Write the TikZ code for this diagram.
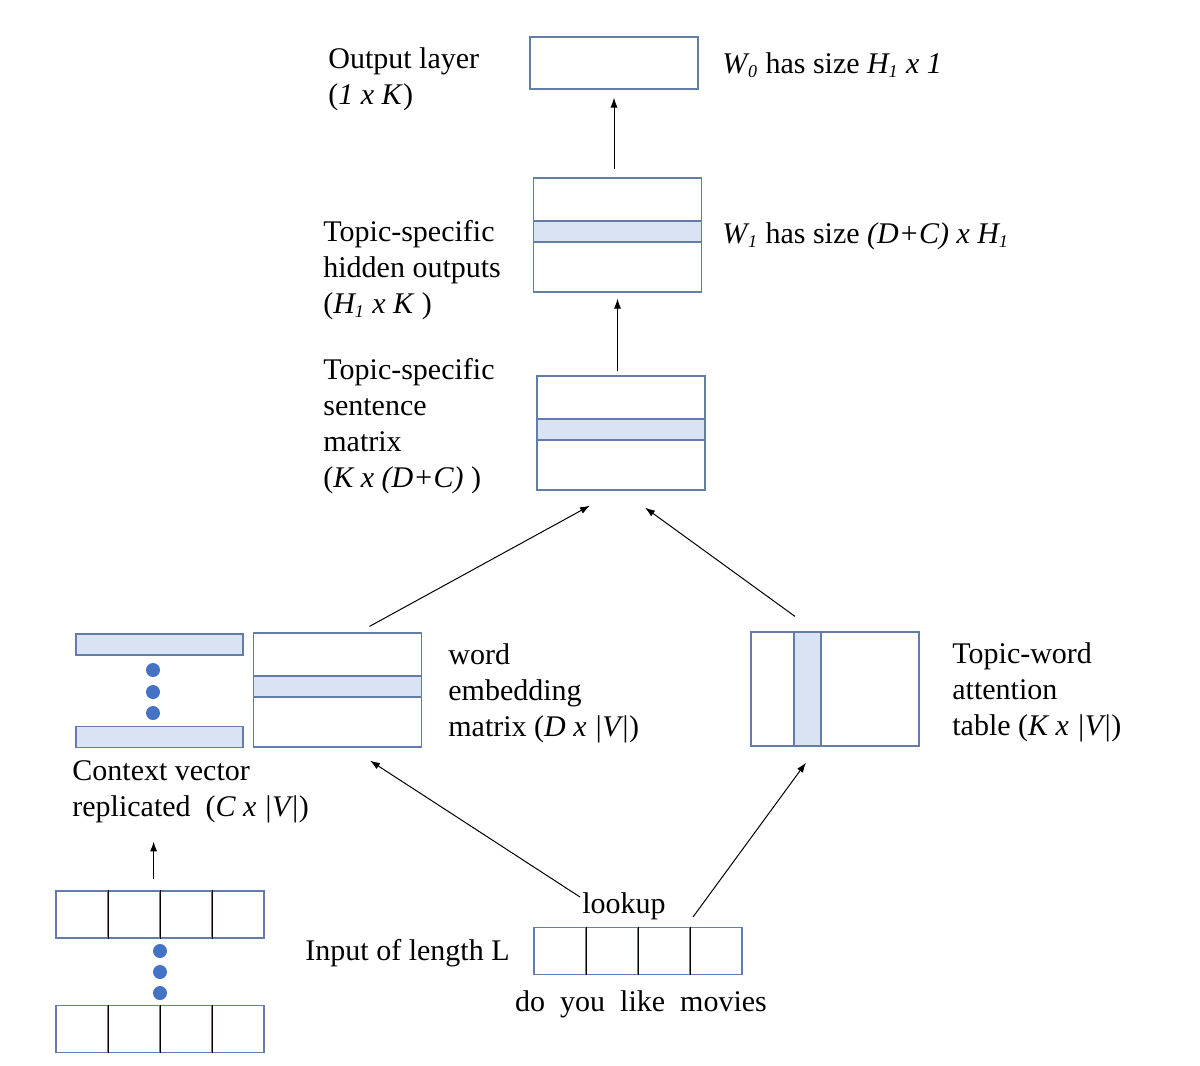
\documentclass[tikz,border=0pt]{standalone}
\usepackage{fontspec}
\setmainfont{Liberation Serif}
\usetikzlibrary{arrows.meta, positioning, calc}

\definecolor{matline}{RGB}{100,124,170}
\definecolor{bandfill}{RGB}{218,227,243}
\definecolor{dotblue}{RGB}{68,114,196}
\newcommand{\ivar}[1]{\textit{#1}}
\newcommand{\isub}[2]{\textit{#1}\kern-0.8pt\textsubscript{\textit{\fontsize{9}{9}\selectfont#2}}}

\begin{document}
\begin{tikzpicture}[
    x=0.5pt, y=-0.5pt,
    font=\fontsize{15}{18}\selectfont,
    matrixbox/.style={draw=matline, line width=0.6pt, fill=white, minimum width=84pt, minimum height=57pt, inner sep=0pt},
    rowband/.style={draw=matline, line width=0.6pt, fill=bandfill, minimum width=84pt, minimum height=10.5pt, inner sep=0pt},
    colband/.style={draw=matline, line width=0.6pt, fill=bandfill, minimum width=13.5pt, minimum height=57pt, inner sep=0pt},
    ctxbar/.style={draw=matline, line width=0.6pt, fill=bandfill, minimum width=83.5pt, minimum height=10.5pt, inner sep=0pt},
    cell/.style={draw=matline, line width=0.6pt, minimum width=26pt, minimum height=23.5pt, inner sep=0pt},
    dot/.style={circle, fill=dotblue, minimum size=7pt, inner sep=0pt},
    lbl/.style={align=left, anchor=north west, inner sep=0pt},
    flow/.style={-{Latex[length=5pt, width=3.5pt]}, line width=0.5pt}
]
    \useasboundingbox (0,0) rectangle (1200,1066);

    % output layer
    \node[matrixbox, minimum height=26pt] (output) at (614,63) {};
    \node[lbl] (outlbl) at (328,47) {Output layer\\(\ivar{1 x K})};
    \node[anchor=west, inner sep=0pt] (w0lbl) at (722,65) {\isub{W}{0} has size \isub{H}{1} \ivar{x 1}};

    % hidden outputs
    \node[matrixbox] (hidden) at (617.5,235) {};
    \node[rowband] (hidband) at (617.5,231.5) {};
    \node[lbl] (hidlbl) at (323,220) {Topic-specific\\hidden outputs\\(\isub{H}{1} \ivar{x K} )};
    \node[anchor=west, inner sep=0pt] (w1lbl) at (722,236) {\isub{W}{1} has size \ivar{(D+C) x} \isub{H}{1}};

    % sentence matrix
    \node[matrixbox] (sentence) at (621,433) {};
    \node[rowband] (sentband) at (621,429.5) {};
    \node[lbl] (sentlbl) at (323,358) {Topic-specific\\sentence\\matrix\\(\ivar{K x (D+C)} )};

    % context vectors
    \node[ctxbar] (ctxtop) at (159.5,644.5) {};
    \node[ctxbar] (ctxbot) at (159.5,737) {};
    \foreach \y [count=\i] in {670,692,713}
        \node[dot] (cdot\i) at (153,\y) {};
    \node[lbl] (ctxlbl) at (72,760) {Context vector\\replicated\ \ (\ivar{C x |V|})};

    % word embedding
    \node[matrixbox] (embed) at (337.5,690) {};
    \node[rowband] (embband) at (337.5,686.5) {};
    \node[lbl] (emblbl) at (448,643) {word\\embedding\\matrix (\ivar{D x |V|})};

    % attention table
    \node[matrixbox] (attn) at (835,689) {};
    \node[colband] (attnband) at (807.5,689) {};
    \node[lbl] (attnlbl) at (952,642) {Topic-word\\attention\\table (\ivar{K x |V|})};

    % replicated inputs
    \foreach \i in {1,...,4} {
        \node[cell] (top\i) at ({30+52*\i},914.5) {};
        \node[cell] (bot\i) at ({30+52*\i},1029) {};
        \node[cell] (inp\i) at ({508+52*\i},951) {};
    }
    \foreach \i in {1,2,3}
        \draw[line width=0.6pt] (top\i.north east) -- (top\i.south east)
              (bot\i.north east) -- (bot\i.south east)
              (inp\i.north east) -- (inp\i.south east);
    \foreach \y [count=\i] in {951,972,993}
        \node[dot] (idot\i) at (160,\y) {};

    \node (lookup) at (624,906) {lookup};
    \node[anchor=east, inner sep=0pt] (inplbl) at (510,953) {Input of length L};
    \node (words) at (641,1004) {do\ \ you\ \ like\ \ movies};

    % arrows
    \draw[flow] ([xshift=-3.5pt,yshift=5.5pt]top2.north east) -- ([xshift=-3.5pt,yshift=24.5pt]top2.north east);
    \draw[flow] ([xshift=-22pt,yshift=4.5pt]lookup.center) -- ([xshift=16.25pt,yshift=-6.5pt]embed.south);
    \draw[flow] ([xshift=34.5pt,yshift=-5.5pt]lookup.center) -- ([xshift=-14.5pt,yshift=-8pt]attn.south);
    \draw[flow] ([xshift=16pt,yshift=3pt]embed.north) -- ([xshift=-15.5pt,yshift=-7.5pt]sentence.south);
    \draw[flow] ([xshift=-20pt,yshift=7.5pt]attn.north) -- ([xshift=12pt,yshift=-8.5pt]sentence.south);
    \draw[flow, shorten <=2pt, shorten >=3pt] (sentence.north -| hidden.south) -- (hidden.south);
    \draw[flow, shorten <=4pt, shorten >=4pt] (hidden.north -| output.south) -- (output.south);
\end{tikzpicture}
\end{document}
